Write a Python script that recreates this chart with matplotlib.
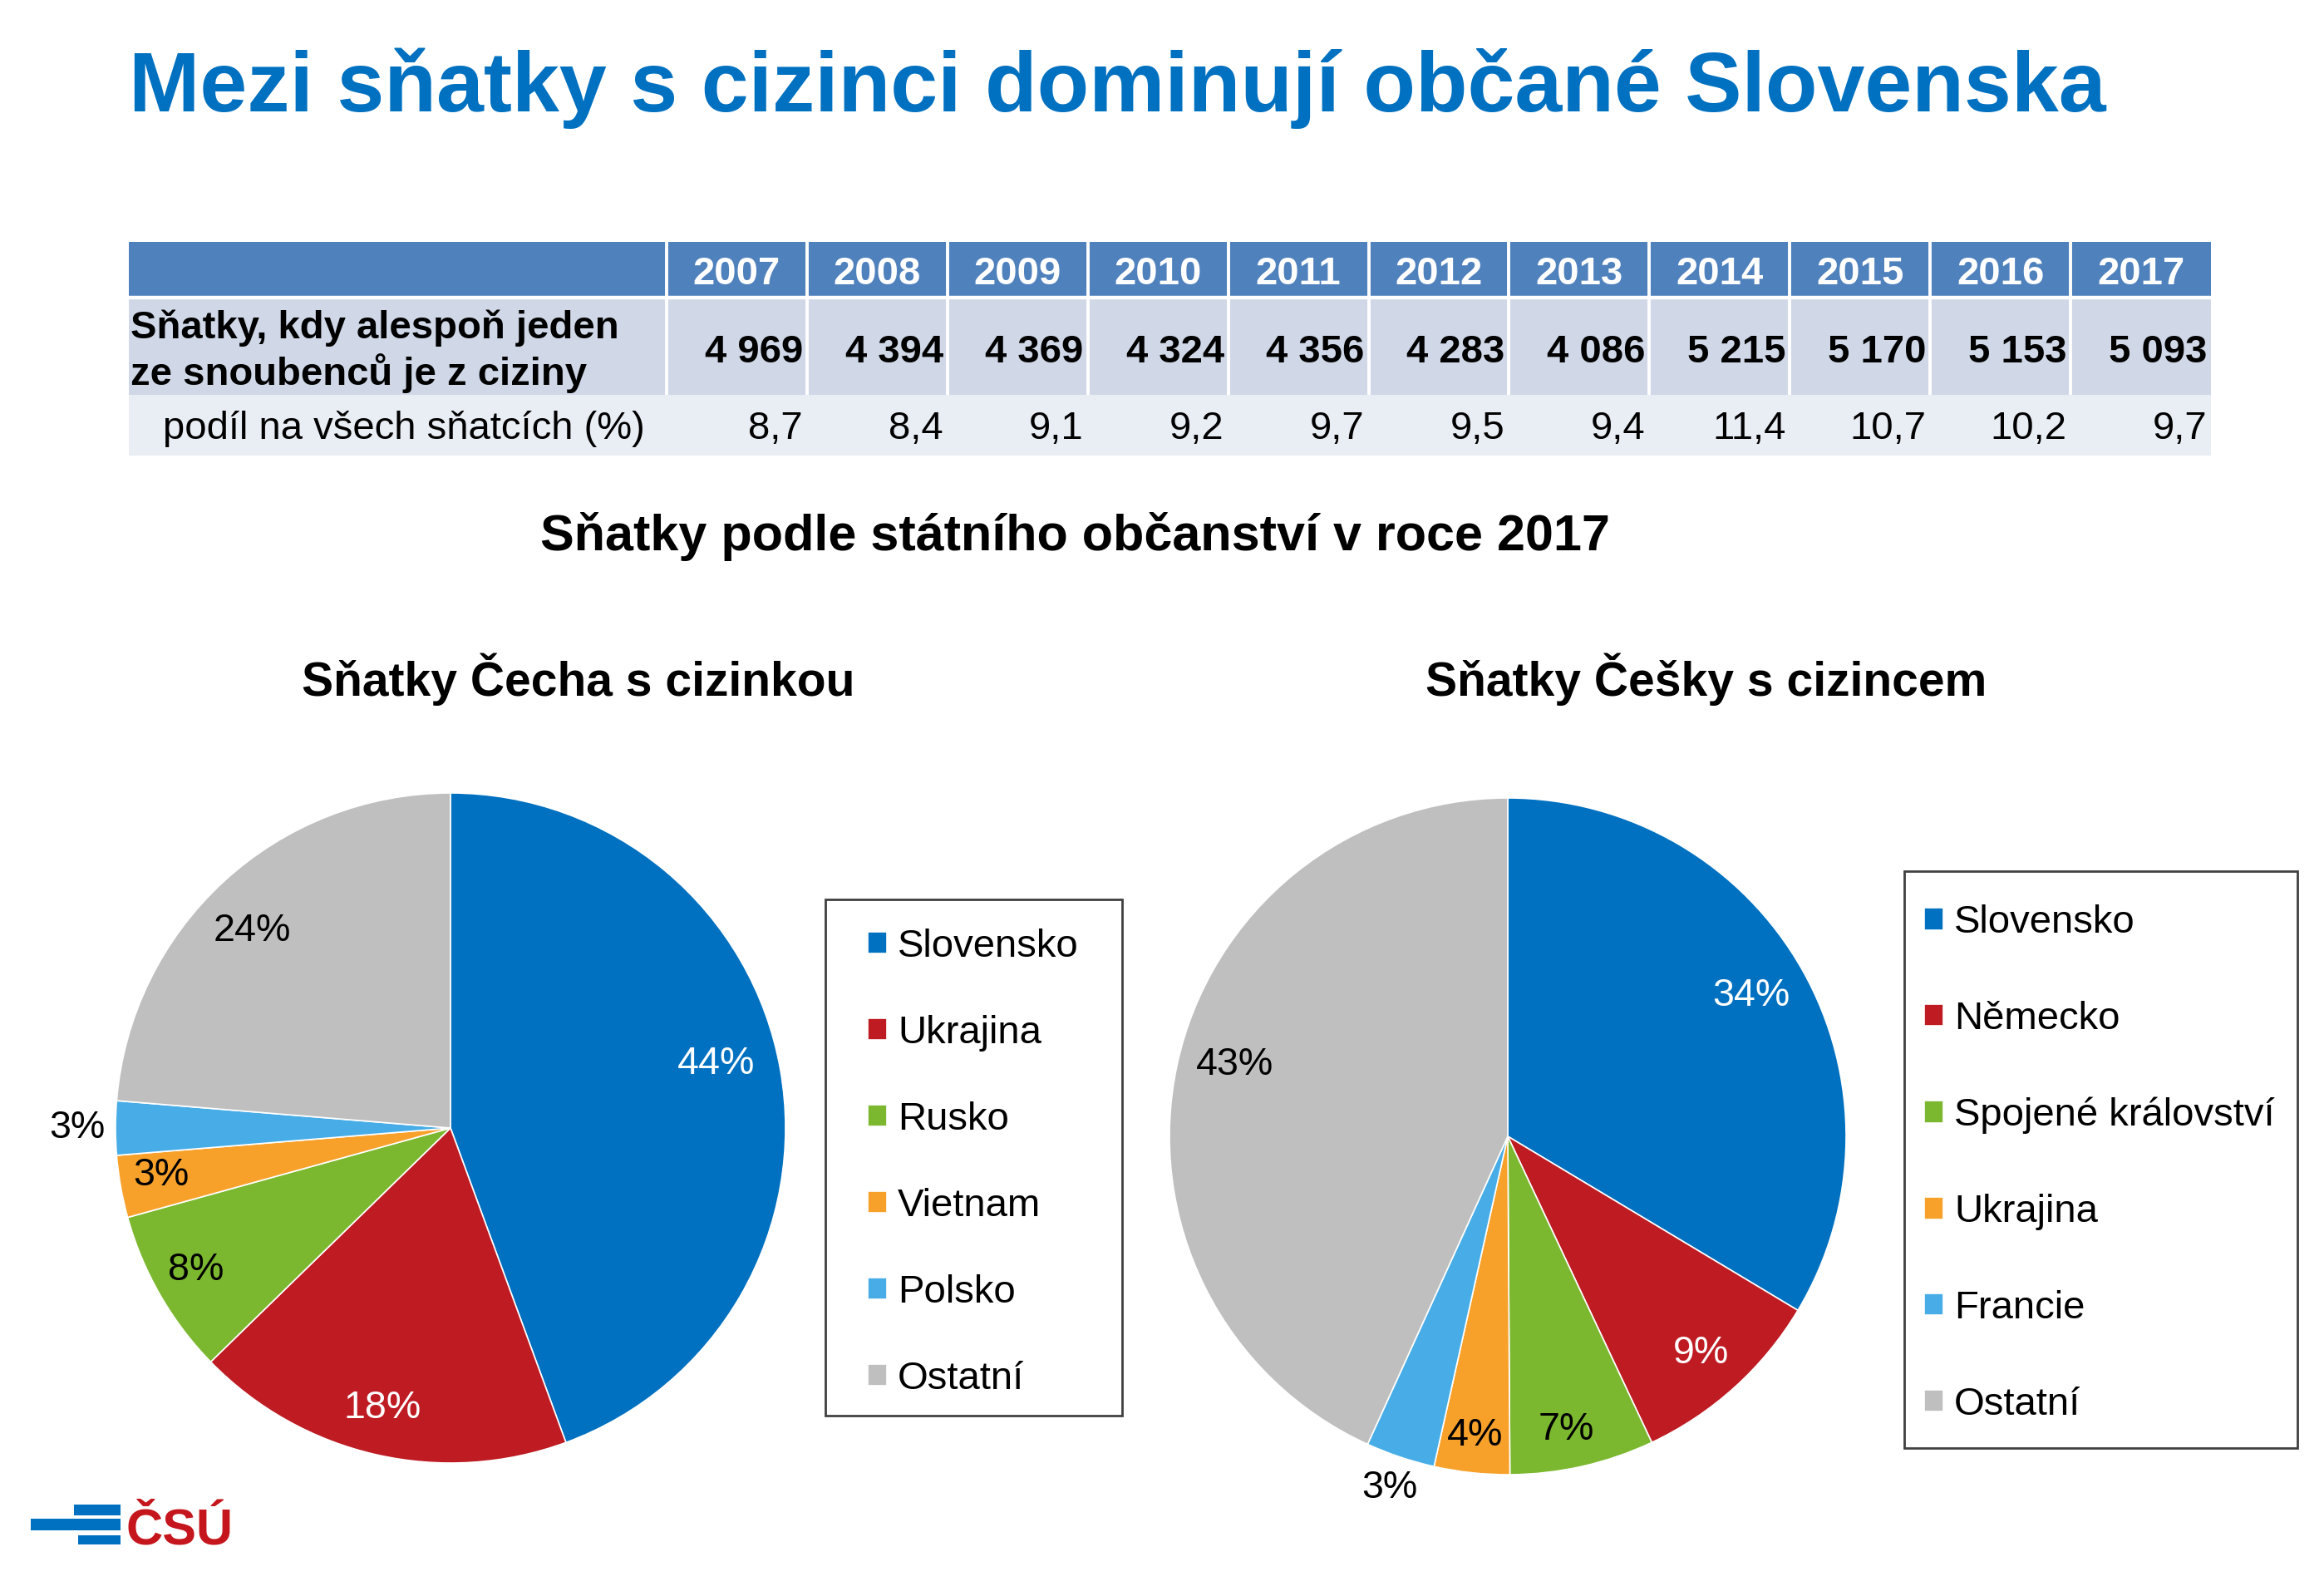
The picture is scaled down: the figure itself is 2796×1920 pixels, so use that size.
import matplotlib
matplotlib.use("Agg")
import matplotlib.pyplot as plt
from matplotlib.patches import Rectangle
import numpy as np

plt.rcParams['font.family'] = ['Liberation Sans', 'DejaVu Sans']

# ---------------- data ----------------
title = "Mezi sňatky s cizinci dominují občané Slovenska"
years = ["2007", "2008", "2009", "2010", "2011", "2012", "2013", "2014", "2015", "2016", "2017"]
marriages = [4969, 4394, 4369, 4324, 4356, 4283, 4086, 5215, 5170, 5153, 5093]
share_pct = [8.7, 8.4, 9.1, 9.2, 9.7, 9.5, 9.4, 11.4, 10.7, 10.2, 9.7]
row1_label = "Sňatky, kdy alespoň jeden\nze snoubenců je z ciziny"
row2_label = "podíl na všech sňatcích (%)"

subtitle = "Sňatky podle státního občanství v roce 2017"
left_title = "Sňatky Čecha s cizinkou"
right_title = "Sňatky Češky s cizincem"

left_countries = ["Slovensko", "Ukrajina", "Rusko", "Vietnam", "Polsko", "Ostatní"]
left_values = [44.4, 18.3, 8.0, 3.0, 2.6, 23.7]
right_countries = ["Slovensko", "Německo", "Spojené království", "Ukrajina", "Francie", "Ostatní"]
right_values = [33.6, 9.4, 6.9, 3.6, 3.3, 43.2]

# ---------------- styles ----------------
slice_colors = ["#0070C0", "#BE1B23", "#7CB82F", "#F7A12B", "#48ADE6", "#BFBFBF"]
left_label_r = [0.815, 0.86, 0.87, 0.875, 1.115, 0.835]
left_label_dang = [3.4, -0.9, -0.7, -0.8, 0.0, 2.5]      # counter-clockwise degrees
left_label_c = ["white", "white", "black", "black", "black", "black"]
right_label_r = [0.83, 0.86, 0.885, 0.89, 1.095, 0.835]
right_label_dang = [0.5, -0.4, -1.5, -0.2, 0.0, -2.5]
right_label_c = ["white", "white", "black", "black", "black", "black"]

W, H = 2796, 1920
DPI = 200
fig = plt.figure(figsize=(W / DPI, H / DPI), dpi=DPI, facecolor="white")

bg = fig.add_axes([0, 0, 1, 1])
bg.set_xlim(0, W)
bg.set_ylim(H, 0)
bg.axis("off")

# title
bg.text(155, 134, title, fontsize=36.85, fontweight="bold", color="#0070C0", va="baseline", ha="left")

# ---------------- table ----------------
x0, xc, x1 = 155, 802, 2660
ncol = len(years)
cw = (x1 - xc) / ncol
r0, r1, r2, r3 = 291, 358, 475, 548
HEAD, ROW1, ROW2 = "#4F81BD", "#D0D8E8", "#E9EDF4"
TFS = 17

bg.add_patch(Rectangle((x0, r0), x1 - x0, r1 - r0, facecolor=HEAD, edgecolor="none"))
bg.add_patch(Rectangle((x0, r1), x1 - x0, r2 - r1, facecolor=ROW1, edgecolor="none"))
bg.add_patch(Rectangle((x0, r2), x1 - x0, r3 - r2, facecolor=ROW2, edgecolor="none"))
# white grid lines
bg.plot([x0, x1], [r1, r1], color="white", lw=1.6, solid_capstyle="butt")
for i in range(ncol):
    xl = xc + i * cw
    bg.plot([xl, xl], [r0, r2], color="white", lw=1.4, solid_capstyle="butt")

for i, (yr, m, s) in enumerate(zip(years, marriages, share_pct)):
    cx = xc + (i + 0.5) * cw
    xr = xc + (i + 1) * cw - 5
    bg.text(cx, (r0 + r1) / 2 + 5, yr, fontsize=TFS, fontweight="bold", color="white",
            ha="center", va="center")
    bg.text(xr, (r1 + r2) / 2 + 7, f"{m:,}".replace(",", " "), fontsize=TFS, fontweight="bold",
            color="black", ha="right", va="center")
    bg.text(xr, (r2 + r3) / 2 + 5, f"{s:.1f}".replace(".", ","), fontsize=TFS,
            color="black", ha="right", va="center")

bg.text(157, (r1 + r2) / 2 + 6, row1_label, fontsize=TFS, fontweight="bold", color="black",
        ha="left", va="center", linespacing=1.2)
bg.text(196, (r2 + r3) / 2 + 5, row2_label, fontsize=TFS, color="black", ha="left", va="center")

# subtitles
bg.text(1293, 662, subtitle, fontsize=22, fontweight="bold", ha="center", va="baseline")
bg.text(696, 837, left_title, fontsize=20.5, fontweight="bold", ha="center", va="baseline")
bg.text(2053, 837, right_title, fontsize=20.5, fontweight="bold", ha="center", va="baseline")


# ---------------- pies ----------------
def draw_pie(cx, cy, r, values, countries, radii, dangs, lcolors, leg_x, leg_y, spacing):
    lim = 1.3
    side = 2 * lim * r
    ax = fig.add_axes([(cx - side / 2) / W, 1 - (cy + side / 2) / H, side / W, side / H])
    wedges, _ = ax.pie(values, colors=slice_colors, startangle=90, counterclock=False,
                       radius=1.0, wedgeprops=dict(edgecolor="white", linewidth=0.6))
    ax.set_xlim(-lim, lim)
    ax.set_ylim(-lim, lim)
    ax.set_aspect("equal")
    ax.axis("off")
    for w, v, rr, da, c in zip(wedges, values, radii, dangs, lcolors):
        ang = np.deg2rad((w.theta1 + w.theta2) / 2 + da)
        ax.text(rr * np.cos(ang), rr * np.sin(ang), f"{round(v)}%", fontsize=16.8,
                color=c, ha="center", va="center")
    fig.legend(wedges, countries, loc="center left",
               bbox_to_anchor=(leg_x / W, 1 - leg_y / H), frameon=False,
               borderpad=0, borderaxespad=0, fontsize=17,
               handlelength=0.48, handleheight=0.48, handletextpad=0.28,
               labelspacing=spacing)
    return ax


draw_pie(542, 1357, 403, left_values, left_countries, left_label_r, left_label_dang,
         left_label_c, 1044, 1399, 1.27)
draw_pie(1814, 1367, 407, right_values, right_countries, right_label_r, right_label_dang,
         right_label_c, 2315, 1400, 1.52)

# legend frames
bg.add_patch(Rectangle((993, 1082), 357, 621, facecolor="none", edgecolor="#404040", lw=1.0))
bg.add_patch(Rectangle((2291, 1048), 473, 694, facecolor="none", edgecolor="#404040", lw=1.0))

# ---------------- logo ----------------
for (lx, ly, lw_, lh) in [(89, 1810, 56, 13), (37, 1827, 108, 14), (94, 1847, 51, 11)]:
    bg.add_patch(Rectangle((lx, ly), lw_, lh, facecolor="#0070C0", edgecolor="none"))
bg.text(151, 1858, "ČSÚ", fontsize=22, fontweight="bold", color="#C4161C", va="baseline", ha="left")

fig.savefig("out.png", dpi=DPI, facecolor="white")
